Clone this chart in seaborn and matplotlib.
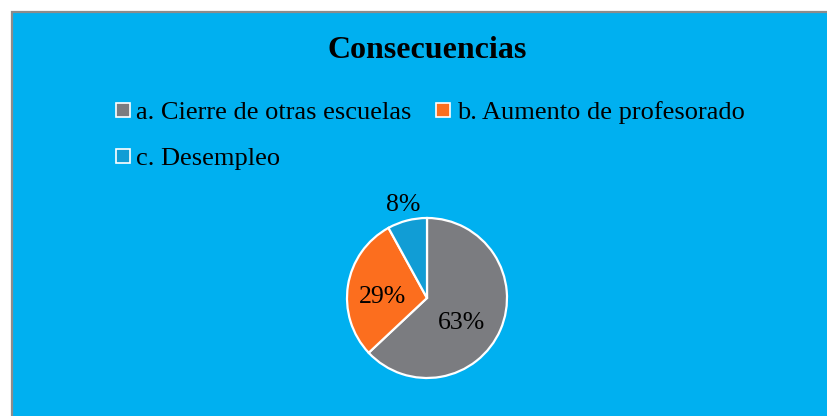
import matplotlib
matplotlib.use("Agg")
import matplotlib.pyplot as plt
from matplotlib.lines import Line2D
from matplotlib.patches import Rectangle
import seaborn as sns
import numpy as np

categorias = ["a. Cierre de otras escuelas", "b. Aumento de profesorado", "c. Desempleo"]
valores = [63, 29, 8]
colores = ["#7b7c80", "#fc6e1e", "#119dd5"]
titulo = "Consecuencias"

sns.set_theme(style="white")
plt.rcParams["font.family"] = ["Liberation Serif", "DejaVu Serif"]
plt.rcParams["text.color"] = "black"

fig = plt.figure(figsize=(8.27, 4.16), dpi=100)
fig.patch.set_facecolor("white")

# fondo del grafico con borde gris (lado izquierdo y superior visibles)
W, H = 827, 416
fig.patches.append(Rectangle((12 / W, -0.05), 1.1, (416 - 12) / H + 0.05,
                             transform=fig.transFigure, facecolor="#00b0f0",
                             edgecolor="#8c8c8c", linewidth=1.6, zorder=-5))

fig.text(427 / W, 1 - 51 / H, titulo, ha="center", va="center",
         fontsize=23, fontweight="bold", color="black")

# pastel
r = 80
cx, cy = 427, 298
ax = fig.add_axes([(cx - r) / W, (H - cy - r) / H, 2 * r / W, 2 * r / H])
ax.set_zorder(2)
wedges, texts, autotexts = ax.pie(
    valores, colors=colores, startangle=90, counterclock=False,
    autopct=lambda p: f"{p:.0f}%", pctdistance=0.6,
    wedgeprops=dict(edgecolor="white", linewidth=1.6),
    textprops=dict(fontsize=18.5, color="black"))
ax.set_xlim(-1, 1)
ax.set_ylim(-1, 1)
ax.set_aspect("equal")
ax.axis("off")

# posicion de etiquetas (distancia al centro y giro respecto al centro de la cuna)
dist = [0.53, 0.56, 1.2]
giro = [-13, 8, 0]
for w, t, d, g in zip(wedges, autotexts, dist, giro):
    ang = np.deg2rad((w.theta1 + w.theta2) / 2 + g)
    t.set_position((d * np.cos(ang), d * np.sin(ang)))
    t.set_clip_on(False)

# leyenda: orden para que a y b queden en la primera fila
handles = [Line2D([], [], linestyle="none", marker="s", markersize=10.5,
                  markerfacecolor=c, markeredgecolor="white", markeredgewidth=1.2)
           for c in colores]
orden = [0, 2, 1]
fig.legend([handles[i] for i in orden], [categorias[i] for i in orden],
           ncol=2, loc="upper left", bbox_to_anchor=(114 / W, 1 - 101 / H),
           frameon=False, fontsize=19, labelcolor="black",
           handlelength=0.65, handletextpad=0.2,
           columnspacing=0.85, labelspacing=0.85, borderpad=0, borderaxespad=0)

fig.savefig("out.png", dpi=100)
